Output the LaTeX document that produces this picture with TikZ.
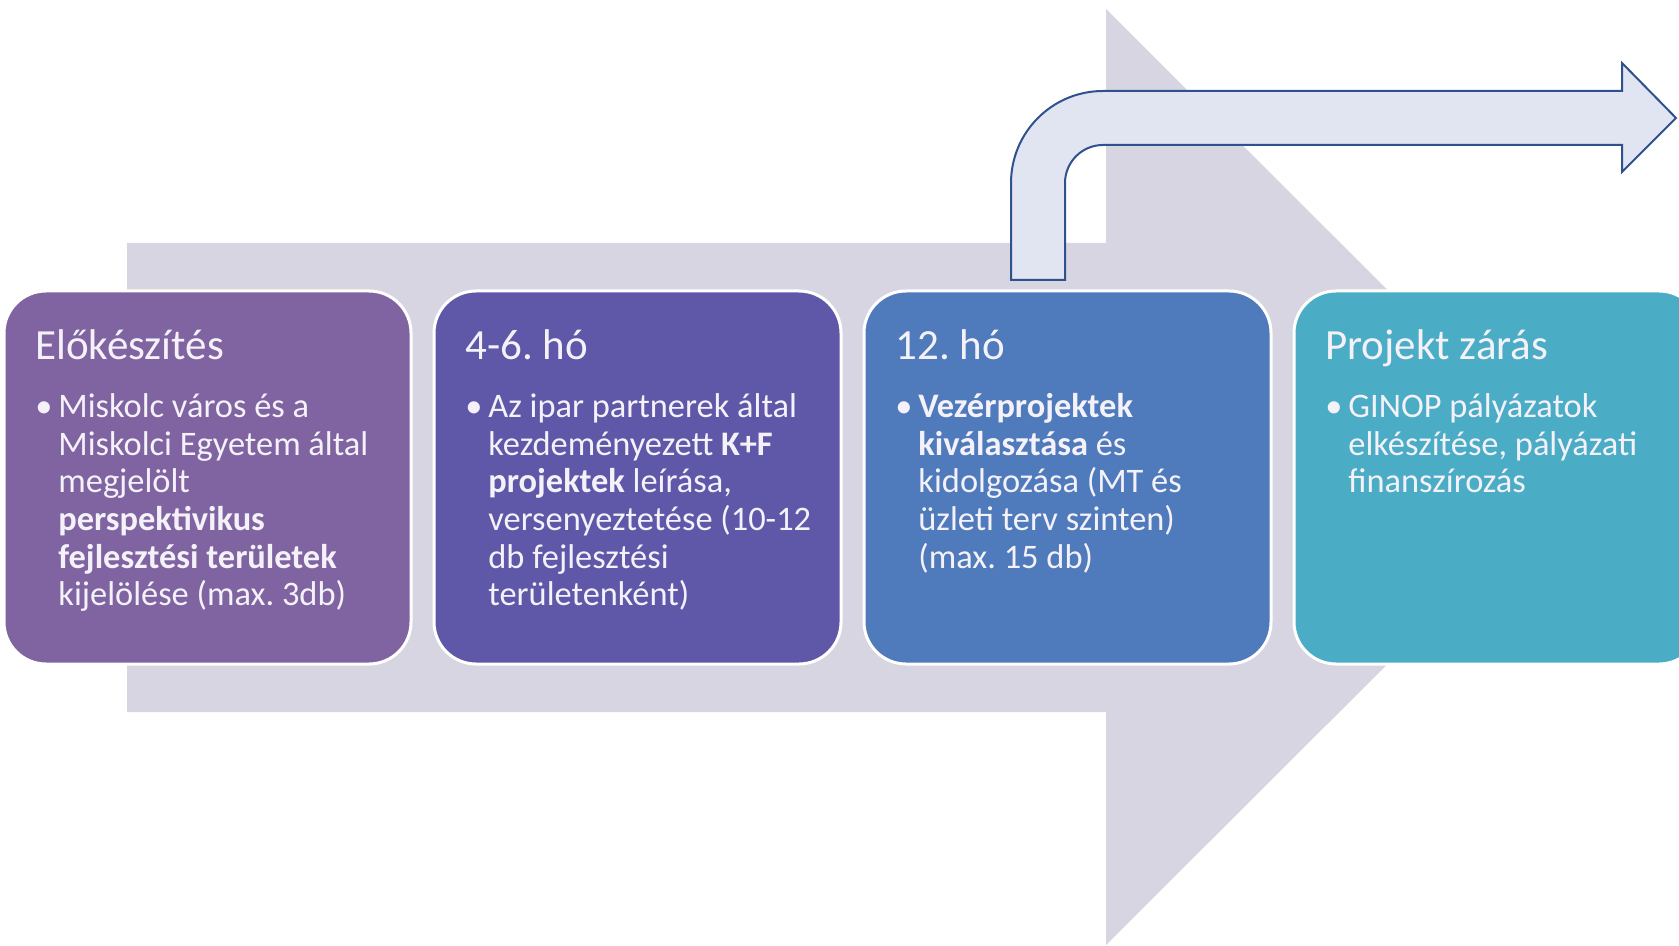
\documentclass[tikz,border=0pt]{standalone}
\usepackage{fontspec}
\setmainfont{Carlito}
\usepackage{tikz}
\usetikzlibrary{positioning}
\usepackage{xcolor}
\definecolor{bgarrow}{HTML}{D8D5E2}
\definecolor{phaseA}{HTML}{8064A2}
\definecolor{phaseB}{HTML}{5F58A9}
\definecolor{phaseC}{HTML}{4F7ABB}
\definecolor{phaseD}{HTML}{4BACC6}
\definecolor{bendfill}{HTML}{E1E4F1}
\definecolor{bendline}{HTML}{2F528F}
\definecolor{txt}{HTML}{F4F2F8}
\frenchspacing

\begin{document}
\begin{tikzpicture}[x=0.5pt, y=-0.5pt, node distance=11.5pt,
  phase/.style = { shape=rectangle, rounded corners=21pt, draw=white,
	line width=1.5pt, minimum width=203.5pt, minimum height=186.5pt,
	inner sep=0pt, outer sep=0pt},
  title/.style = { anchor=base west, inner sep=0pt, text=txt,
	font=\fontsize{21.5}{24}\selectfont},
  body/.style = { anchor=north west, inner sep=0pt, text=txt, align=left,
	font=\fontsize{17.2}{18.8}\selectfont}]

\useasboundingbox (0,0) rectangle (1679,946);
\clip (0,0) rectangle (1679,946);

\fill[bgarrow] (127,243) -- (1106,243) -- (1106,9) -- (1575,477)
	 -- (1106,945) -- (1106,712) -- (127,712) -- cycle;

\node[phase, fill=phaseA, anchor=north west] (prep) at (4,291) {};
\node[phase, fill=phaseB, right=of prep] (months) {};
\node[phase, fill=phaseC, right=of months] (year) {};
\node[phase, fill=phaseD, right=of year] (closing) {};

\node[title] (prep-title) at ([shift={(31,68)}]prep.north west) {Előkészítés};
\node[body] (prep-body) at ([shift={(54,100)}]prep.north west)
	 {\strut\llap{\textbullet\hspace{3pt}}Miskolc város és a\\
	  Miskolci Egyetem által\\
	  megjelölt\\
	  \textbf{perspektivikus}\\
	  \textbf{fejlesztési területek}\\
	  kijelölése (max. 3db)};

\node[title] (months-title) at ([shift={(31,68)}]months.north west) {4-6. hó};
\node[body] (months-body) at ([shift={(54,100)}]months.north west)
	 {\strut\llap{\textbullet\hspace{3pt}}Az ipar partnerek által\\
	  kezdeményezett \textbf{K+F}\\
	  \textbf{projektek} leírása,\\
	  versenyeztetése (10-12\\
	  db fejlesztési\\
	  területenként)};

\node[title] (year-title) at ([shift={(31,68)}]year.north west) {12. hó};
\node[body] (year-body) at ([shift={(54,100)}]year.north west)
	 {\strut\llap{\textbullet\hspace{3pt}}\textbf{Vezérprojektek}\\
	  \textbf{kiválasztása} és\\
	  kidolgozása (MT és\\
	  üzleti terv szinten)\\
	  (max. 15 db)};

\node[title] (closing-title) at ([shift={(31,68)}]closing.north west) {Projekt zárás};
\node[body] (closing-body) at ([shift={(54,100)}]closing.north west)
	 {\strut\llap{\textbullet\hspace{3pt}}GINOP pályázatok\\
	  elkészítése, pályázati\\
	  finanszírozás};

\draw[bendline, fill=bendfill, line width=1pt, line join=miter]
	 (1011,280) -- (1011,183) arc[start angle=180, end angle=270, radius=92]
	 -- (1622,91) -- (1622,63) -- (1676,118) -- (1622,172) -- (1622,145)
	 -- (1103,145) arc[start angle=270, end angle=180, radius=38]
	 -- (1065,280) -- cycle;
\end{tikzpicture}
\end{document}
